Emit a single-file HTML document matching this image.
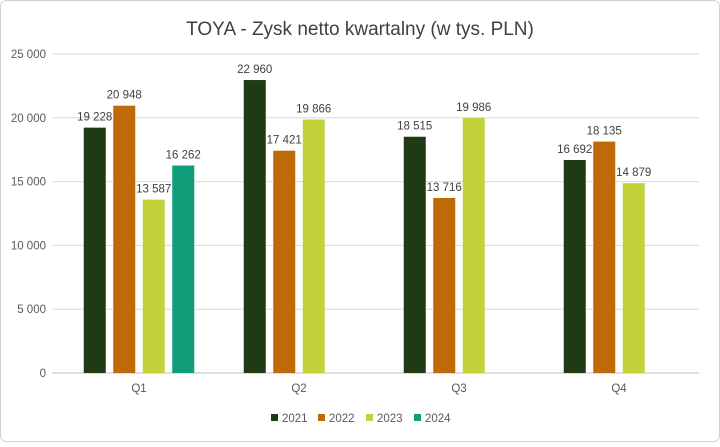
<!DOCTYPE html>
<html><head><meta charset="utf-8"><style>
body{margin:0;background:#fff;font-family:"Liberation Sans",sans-serif}
</style></head><body>
<svg id="c" width="720" height="442" xmlns="http://www.w3.org/2000/svg">
<rect x="0.5" y="0.5" width="719" height="441" rx="6" fill="#fff" stroke="#d0d0d0"/>
<text x="360" y="35" text-anchor="middle" font-size="19" fill="#404040">TOYA - Zysk netto kwartalny (w tys. PLN)</text>
<g id="grid"></g><g id="bars"></g><g id="labels"></g><g id="legend"></g>
</svg>
<script>
const categories=["Q1","Q2","Q3","Q4"];
const seriesNames=["2021","2022","2023","2024"];
const colors=["#1f3a15","#bd6a07","#c3d13b","#0f9d7a"];
const s2021=[19228,22960,18515,16692];
const s2022=[20948,17421,13716,18135];
const s2023=[13587,19866,19986,14879];
const s2024=[16262,null,null,null];
const series=[s2021,s2022,s2023,s2024];
const yTicks=[0,5000,10000,15000,20000,25000];
const NS="http://www.w3.org/2000/svg";
const y0=373,yTop=54,yMax=25000,left=59,catW=160;
const y=v=>y0-(v/yMax)*(y0-yTop);
const xc=i=>left+catW*(i+0.5);
const fmt=v=>String(v).replace(/\B(?=(\d{3})+(?!\d))/g," ");
function mk(t,a,p){const e=document.createElementNS(NS,t);for(const k in a)e.setAttribute(k,a[k]);p.appendChild(e);return e;}
const grid=document.getElementById('grid'),bars=document.getElementById('bars'),labels=document.getElementById('labels'),legend=document.getElementById('legend');
yTicks.forEach(t=>{
 const l=mk('line',{x1:52,x2:699,y1:y(t),y2:y(t),stroke:t===0?'#bfbfbf':'#d9d9d9','stroke-width':1},grid);
 
 
 const tx=mk('text',{x:46,y:y(t)+4,'text-anchor':'end','font-size':11.5,fill:'#595959'},grid);
 tx.textContent=fmt(t);
 
 
});
const bw=22,step=29.5;
categories.forEach((c,i)=>{
 const tx=mk('text',{x:xc(i),y:392,'text-anchor':'middle','font-size':11.5,fill:'#595959'},labels);
 tx.textContent=c;
 
 
 series.forEach((s,j)=>{
  const v=s[i]; if(v==null)return;
  const cx=xc(i)+(j-1.5)*step;
  const r=mk('rect',{x:cx-bw/2,y:y(v),width:bw,height:y0-y(v),fill:colors[j]},bars);
  
  
  const t=mk('text',{x:cx,y:y(v)-7,'text-anchor':'middle','font-size':11.5,fill:'#404040'},labels);
  t.textContent=fmt(v);
  
  
 });
});
const lx=[271,318,366,414];
seriesNames.forEach((n,j)=>{
 const r=mk('rect',{x:lx[j],y:414,width:7,height:7,fill:colors[j]},legend);
 
 
 const t=mk('text',{x:lx[j]+11,y:422,'font-size':11.5,fill:'#595959'},legend);
 t.textContent=n;
 
 
});
</script>
</body></html>
